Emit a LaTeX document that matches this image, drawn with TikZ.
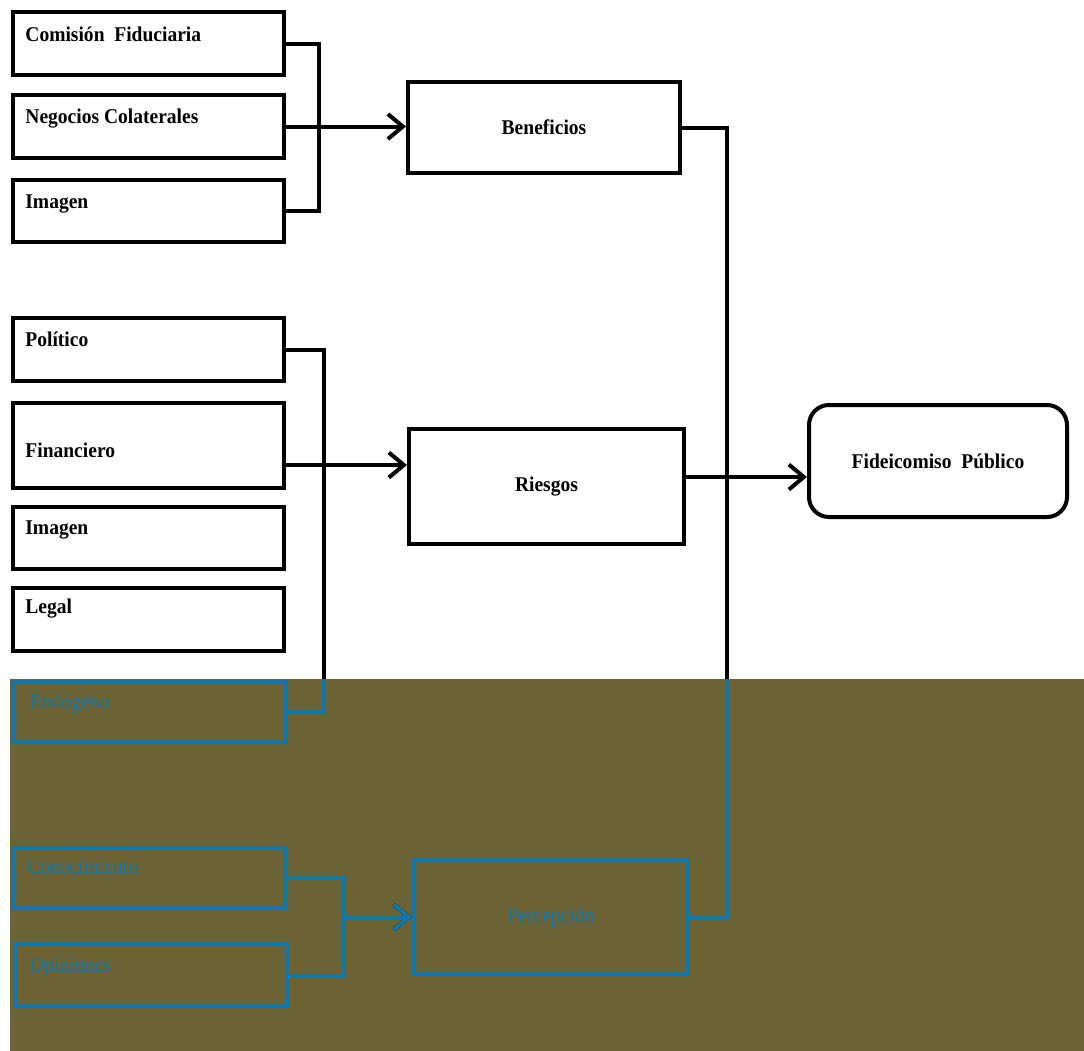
\documentclass[tikz,border=0pt]{standalone}
\usepackage{fontspec}
\setmainfont[FakeStretch=0.93]{Liberation Serif}
\usetikzlibrary{arrows.meta}
\definecolor{bgolive}{HTML}{6B6235}
\definecolor{bblue}{HTML}{1376A9}
\newcommand\myconns{%
  \draw[conn] (cf.east) -- ++(16.5pt,0) |- (im1.east);
  \draw[conn,arr] (nc.east) -- (nc.east -| ben.west);
  \draw[conn] (ben.east) -- ++(22.5pt,0) |- (per.east);
  \draw[conn] (pol.east) -- ++(19pt,0) |- (end.east);
  \draw[conn,arr] ([yshift=-9.75pt]fin.east) coordinate (fa) -- (fa -| rie.west);
  \draw[conn,arr] ([yshift=4.75pt]rie.east) coordinate (ra) -- (ra -| fid.west);
  \draw[conn] (con.east) -- ++(28.5pt,0) coordinate (cj) |- (opi.east);
  \draw[conn,arr] (cj |- per.west) -- (per.west);
}
\begin{document}
\begin{tikzpicture}[x=0.5pt,y=-0.5pt,
  box/.style={draw=black, line width=2pt, inner sep=0, font=\fontsize{10.5}{12}\selectfont\bfseries},
  bbox/.style={draw=bblue, line width=2pt, inner sep=0, text=bblue, font=\fontsize{10.5}{12}\selectfont},
  lbl/.style={anchor=base west, inner sep=0, font=\fontsize{10.5}{12}\selectfont\bfseries},
  blbl/.style={anchor=base west, inner sep=0, text=bblue, font=\fontsize{10.5}{12}\selectfont},
  conn/.style={draw=black, line width=2pt},
  arr/.style={-{Straight Barb[length=7.5pt,width=12.5pt]}}]
\useasboundingbox (0,0) rectangle (1084,1051);
\fill[bgolive] (10,679) rectangle (1084,1051);
% top group
\node[box, minimum width=135.5pt, minimum height=31.5pt] (cf) at (148.5,43.5) {};
\node[box, minimum width=135.5pt, minimum height=31.5pt] (nc) at (148.5,126.5) {};
\node[box, minimum width=135.5pt, minimum height=31pt] (im1) at (148.5,211) {};
\node[lbl] (tcf) at (25,41) {Comisión\ \ Fiduciaria};
\node[lbl] (tnc) at (25,123) {Negocios Colaterales};
\node[lbl] (tim1) at (25,208) {Imagen};
% middle group
\node[box, minimum width=135.5pt, minimum height=31.5pt] (pol) at (148.5,349.5) {};
\node[box, minimum width=135.5pt, minimum height=42.5pt] (fin) at (148.5,445.5) {};
\node[box, minimum width=135.5pt, minimum height=31pt] (im2) at (148.5,538) {};
\node[box, minimum width=135.5pt, minimum height=31.5pt] (leg) at (148.5,619.5) {};
\node[lbl] (tpol) at (25,346) {Político};
\node[lbl] (tfin) at (25,457) {Financiero};
\node[lbl] (tim2) at (25,534) {Imagen};
\node[lbl] (tleg) at (25,613) {Legal};
% centre boxes
\node[box, minimum width=136pt, minimum height=45.5pt] (ben) at (544,127.5) {Beneficios};
\node[box, minimum width=137.5pt, minimum height=57.5pt] (rie) at (546.5,486.5) {\raisebox{-2pt}{Riesgos}};
\node[box, rounded corners=10pt, minimum width=129pt, minimum height=56pt] (fid) at (938,461) {Fideicomiso\ \ Público};
% bottom group
\node[bbox, minimum width=136.5pt, minimum height=30pt] (end) at (149.5,712) {};
\node[bbox, minimum width=136pt, minimum height=30pt] (con) at (149,877) {};
\node[bbox, minimum width=136pt, minimum height=31pt] (opi) at (151,975) {};
\node[bbox, minimum width=137pt, minimum height=57pt] (per) at (551,917) {Percepción};
\node[blbl] (tend) at (30,708) {Endógeno};
\node[blbl] (tcon) at (27,873) {Conocimiento};
\node[blbl] (topi) at (30,971) {Opiniones};
% connectors
\myconns
\begin{scope}[conn/.style={draw=bblue, line width=2pt}]
  \clip (10,679) rectangle (1084,1051);
  \myconns
\end{scope}
\end{tikzpicture}
\end{document}
